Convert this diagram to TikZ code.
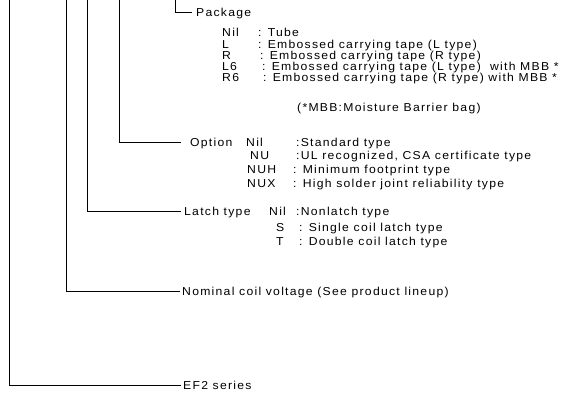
\documentclass[tikz,border=0pt]{standalone}
\usepackage{fontspec}
\setmainfont{Liberation Sans}[FakeStretch=1.06,LetterSpace=11]
\begin{document}
\begin{tikzpicture}[x=1pt,y=-1pt,
  conn/.style={line width=0.8pt},
  txt/.style={anchor=west,inner sep=0pt,text height=8.2pt,text depth=0pt,font=\fontsize{11.5}{13}\selectfont},
  head/.style={txt,inner xsep=#1},
  head/.default=2pt]
\useasboundingbox (0,0) rectangle (585,405);
% tops of the leads
\coordinate (tA) at (9,0);
\coordinate (tB) at (66,0);
\coordinate (tC) at (87,0);
\coordinate (tD) at (119,0);
\coordinate (tE) at (175,0);
% Package
\node[head=4pt] (pkg) at (192,12) {Package};
\node[txt] (p1) at (222,32) {Nil};
\node[txt] (p1d) at (258,32) {: Tube};
\node[txt] (p2) at (222,44) {L};
\node[txt] (p2d) at (258,44) {: Embossed carrying tape (L type)};
\node[txt] (p3) at (222,55) {R};
\node[txt] (p3d) at (260,55) {: Embossed carrying tape (R type)};
\node[txt] (p4) at (222,66) {L6};
\node[txt] (p4d) at (262,66) {: Embossed carrying tape (L type)\ \ with MBB *};
\node[txt] (p5) at (222,77) {R6};
\node[txt] (p5d) at (263,77) {: Embossed carrying tape (R type) with MBB *};
\node[txt] (mbb) at (297,107) {(*MBB:Moisture Barrier bag)};
% Option
\node[head=9pt] (opt) at (181,142) {Option};
\node[txt] (o1) at (246,142) {Nil};
\node[txt] (o1d) at (296,142) {:Standard type};
\node[txt] (o2) at (250,155) {NU};
\node[txt] (o2d) at (296,155) {:UL recognized, CSA certificate type};
\node[txt] (o3) at (247,169) {NUH};
\node[txt] (o3d) at (293,169) {: Minimum footprint type};
\node[txt] (o4) at (247,183) {NUX};
\node[txt] (o4d) at (293,183) {: High solder joint reliability type};
% Latch type
\node[head=3pt] (lat) at (181,211) {Latch type};
\node[txt] (l1) at (269,211) {Nil};
\node[txt] (l1d) at (296,211) {:Nonlatch type};
\node[txt] (l2) at (276,227) {S};
\node[txt] (l2d) at (299,227) {: Single coil latch type};
\node[txt] (l3) at (276,241) {T};
\node[txt] (l3d) at (299,241) {: Double coil latch type};
% Nominal coil voltage
\node[head=2pt] (nom) at (180,291) {Nominal coil voltage (See product lineup)};
% EF2 series
\node[head=2pt] (ser) at (181,385) {EF2 series};
% connectors
\draw[conn] (tE) |- (pkg.west);
\draw[conn] (tD) |- (opt.west);
\draw[conn] (tC) |- (lat.west);
\draw[conn] (tB) |- (nom.west);
\draw[conn] (tA) |- (ser.west);
\end{tikzpicture}
\end{document}
